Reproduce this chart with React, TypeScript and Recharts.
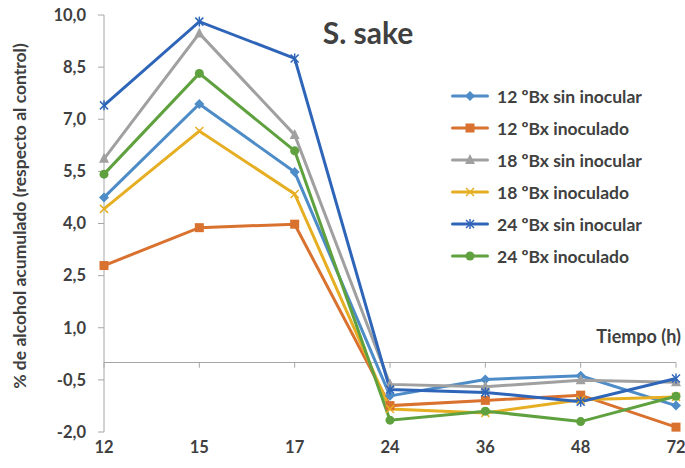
import React from "react";
import { LineChart, Line, XAxis, YAxis, ReferenceLine } from "recharts";

const hours = ["12", "15", "17", "24", "36", "48", "72"];
const yTicks = [-2, -0.5, 1, 2.5, 4, 5.5, 7, 8.5, 10];

const sinInocular12 = [4.75, 7.44, 5.48, -0.96, -0.49, -0.38, -1.24];
const inoculado12 = [2.79, 3.88, 3.98, -1.24, -1.09, -0.94, -1.86];
const sinInocular18 = [5.86, 9.47, 6.55, -0.63, -0.7, -0.51, -0.57];
const inoculado18 = [4.42, 6.66, 4.85, -1.34, -1.45, -1.07, -0.99];
const sinInocular24 = [7.4, 9.81, 8.75, -0.78, -0.86, -1.13, -0.46];
const inoculado24 = [5.42, 8.32, 6.09, -1.66, -1.4, -1.7, -0.97];

const TEXT = "#404040";
const AXIS = "#A6A6A6";
const FONT = "Lato, 'Open Sans', sans-serif";

type Shape = "diamond" | "square" | "triangle" | "x" | "star" | "circle";

const series: { key: string; name: string; color: string; shape: Shape; values: number[] }[] = [
  { key: "s12", name: "12 ºBx sin inocular", color: "#4E8CC8", shape: "diamond", values: sinInocular12 },
  { key: "i12", name: "12 ºBx inoculado", color: "#D9712F", shape: "square", values: inoculado12 },
  { key: "s18", name: "18 ºBx sin inocular", color: "#A0A0A0", shape: "triangle", values: sinInocular18 },
  { key: "i18", name: "18 ºBx inoculado", color: "#E6AE22", shape: "x", values: inoculado18 },
  { key: "s24", name: "24 ºBx sin inocular", color: "#2E65B8", shape: "star", values: sinInocular24 },
  { key: "i24", name: "24 ºBx inoculado", color: "#5EA13E", shape: "circle", values: inoculado24 },
];

const chartData = hours.map((t, i) => {
  const row: Record<string, string | number> = { t };
  series.forEach((s) => {
    row[s.key] = s.values[i];
  });
  return row;
});

function marker(shape: Shape, color: string, cx: number, cy: number, k?: string) {
  switch (shape) {
    case "diamond":
      return (
        <polygon key={k} points={`${cx},${cy - 5} ${cx + 5},${cy} ${cx},${cy + 5} ${cx - 5},${cy}`} fill={color} />
      );
    case "square":
      return <rect key={k} x={cx - 4.5} y={cy - 4.5} width={9} height={9} fill={color} />;
    case "triangle":
      return (
        <polygon key={k} points={`${cx},${cy - 6} ${cx + 5},${cy + 4} ${cx - 5},${cy + 4}`} fill={color} />
      );
    case "x":
      return (
        <g key={k} stroke={color} strokeWidth={1.5}>
          <line x1={cx - 4} y1={cy - 4} x2={cx + 4} y2={cy + 4} />
          <line x1={cx - 4} y1={cy + 4} x2={cx + 4} y2={cy - 4} />
        </g>
      );
    case "star":
      return (
        <g key={k} stroke={color} strokeWidth={1.5}>
          <line x1={cx - 4} y1={cy - 4} x2={cx + 4} y2={cy + 4} />
          <line x1={cx - 4} y1={cy + 4} x2={cx + 4} y2={cy - 4} />
          <line x1={cx} y1={cy - 5} x2={cx} y2={cy + 5} />
        </g>
      );
    default:
      return <circle key={k} cx={cx} cy={cy} r={4.5} fill={color} />;
  }
}

function makeDot(shape: Shape, color: string) {
  return (props: any) => {
    const { cx, cy, index } = props;
    if (cx == null || cy == null) return <g key={`d${index}`} />;
    return marker(shape, color, cx, cy, `d${index}`);
  };
}

function formatTick(v: number): string {
  return v.toFixed(1).replace(".", ",");
}

function ChartLegend() {
  return (
    <div
      style={{
        position: "absolute",
        left: 451,
        top: 80,
        fontFamily: FONT,
        fontWeight: 700,
        fontSize: 17.5,
        color: TEXT,
      }}
    >
      {series.map((s) => (
        <div key={s.key} style={{ display: "flex", alignItems: "center", height: 32, whiteSpace: "nowrap" }}>
          <svg width={38} height={14} style={{ marginRight: 8 }}>
            <line x1={1.5} y1={7} x2={36.5} y2={7} stroke={s.color} strokeWidth={3} strokeLinecap="round" />
            {marker(s.shape, s.color, 19, 7)}
          </svg>
          <span>{s.name}</span>
        </div>
      ))}
    </div>
  );
}

const tickStyle = { fill: TEXT, fontSize: 16.5, fontWeight: 700, fontFamily: FONT };

export default function App() {
  return (
    <div style={{ position: "absolute", left: 0, top: 0, width: 685, height: 468, background: "#fff" }}>
      <LineChart
        width={685}
        height={468}
        data={chartData}
        margin={{ top: 15, right: 9, left: 0, bottom: 0 }}
      >
        <XAxis
          dataKey="t"
          axisLine={false}
          tickLine={false}
          height={36}
          tickMargin={3}
          tick={tickStyle}
          interval={0}
        />
        <YAxis
          domain={[-2, 10]}
          ticks={yTicks}
          width={104}
          stroke={AXIS}
          tickSize={6}
          tickMargin={12}
          tickFormatter={formatTick}
          tick={tickStyle}
          allowDataOverflow
        />
        <ReferenceLine y={0} stroke={AXIS} strokeWidth={1} />
        {hours.map((h) => (
          <ReferenceLine
            key={`tk${h}`}
            segment={[
              { x: h, y: 0 },
              { x: h, y: -0.15 },
            ]}
            stroke={AXIS}
            strokeWidth={1}
          />
        ))}
        {series.map((s) => (
          <Line
            key={s.key}
            dataKey={s.key}
            name={s.name}
            stroke={s.color}
            strokeWidth={3}
            type="linear"
            dot={makeDot(s.shape, s.color)}
            activeDot={false}
            isAnimationActive={false}
          />
        ))}
        <text
          x={368}
          y={44}
          textAnchor="middle"
          style={{ fill: TEXT, fontSize: 30, fontWeight: 700, fontFamily: FONT }}
        >
          S. sake
        </text>
        <text
          x={681}
          y={343}
          textAnchor="end"
          style={{ fill: TEXT, fontSize: 18, fontWeight: 700, fontFamily: FONT }}
        >
          Tiempo (h)
        </text>
        <text
          x={26}
          y={216}
          textAnchor="middle"
          transform="rotate(-90 26 216)"
          style={{ fill: TEXT, fontSize: 17.5, fontWeight: 700, fontFamily: FONT }}
        >
          % de alcohol acumulado (respecto al control)
        </text>
      </LineChart>
      <ChartLegend />
    </div>
  );
}
